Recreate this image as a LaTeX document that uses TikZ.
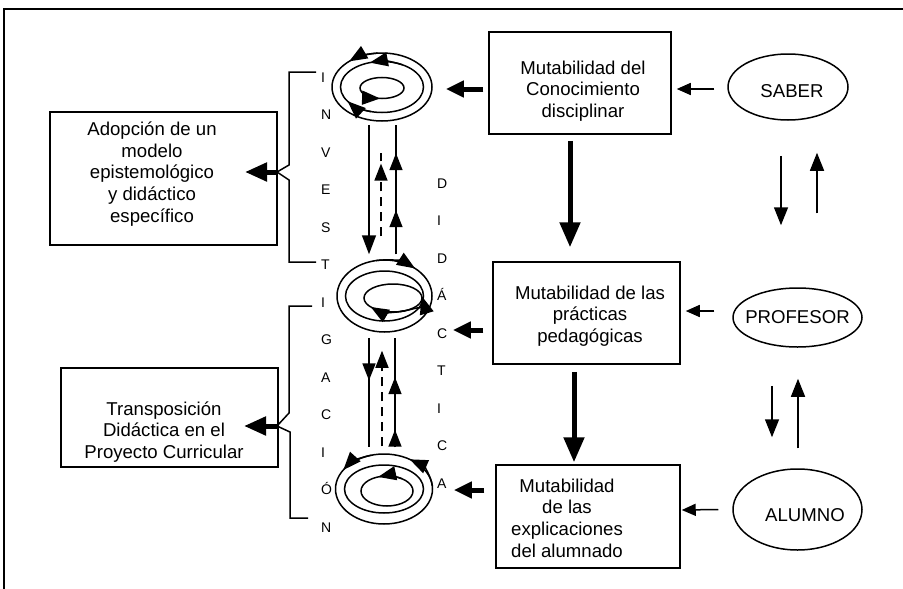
\documentclass[tikz,border=0pt]{standalone}
\usepackage{fontspec}
\setmainfont{Liberation Sans}
\usetikzlibrary{arrows.meta,shapes.geometric,decorations.markings}
\tikzstyle{box}=[draw,line width=1.5pt,inner sep=0pt]
\tikzstyle{oval}=[ellipse,draw,line width=1.5pt,inner sep=0pt]
\tikzstyle{txt}=[align=center,inner sep=0pt,font=\fontsize{18.6}{21.7}\selectfont]
\tikzstyle{letter}=[anchor=west,inner sep=0pt,text height=10pt,text depth=0pt,font=\fontsize{14}{16}\selectfont]
\tikzstyle{plain}=[draw,line width=1.5pt]
\tikzstyle{arr}=[draw,line width=1.5pt,-{Triangle[length=14pt,width=12pt]}]
\tikzstyle{varr}=[draw,line width=1.5pt,-{Triangle[length=18pt,width=14pt]}]
\tikzstyle{sarr}=[draw,line width=1.5pt,-{Triangle[length=19pt,width=14pt]}]
\tikzstyle{ctip}=[draw,line width=1.5pt,-{Triangle[length=18pt,width=14pt]}]
\tikzstyle{fat}=[draw,line width=5pt,-{Triangle[length=25pt,width=20pt]}]
\tikzstyle{fatl}=[draw,line width=5pt,-{Triangle[length=22pt,width=18pt]}]
\tikzstyle{fats}=[draw,line width=5pt,-{Triangle[length=18pt,width=16pt]}]
\tikzset{tipat/.style={postaction={decorate,decoration={markings,
  mark=at position #1 with {\arrow{Triangle[length=17pt,width=13pt]}}}}}}

\begin{document}
\begin{tikzpicture}[x=1pt,y=-1pt]
    \useasboundingbox (0,0) rectangle (903,589);
    \path[plain] (4,589) -- (4,9) -- (903,9);
    % boxes, ovals and spirals
    \foreach \pos/\name/\w/\h in {{(580,83)/b1/182pt/102pt}, {(586.5,313)/b2/187pt/102pt},
    {(588,516.5)/b3/184pt/103pt}, {(163.5,178.5)/adop/227pt/133pt},
    {(169.5,417.5)/transp/217pt/99pt}}
        \node[box,minimum width=\w,minimum height=\h] (\name) at \pos {};
    \foreach \pos/\name/\w/\h in {{(788,87)/saber/120pt/66pt}, {(797.5,317.5)/prof/129pt/59pt},
    {(797.5,509.5)/alumno/129pt/81pt}, {(382,87)/sp1/100pt/68pt}, {(384.5,296)/sp2/95pt/72pt},
    {(384,489)/sp3/97pt/70pt}}
        \node[oval,minimum width=\w,minimum height=\h] (\name) at \pos {};
    \foreach \pos/\name/\val in {{(583,91)/t1/{Mutabilidad del\\Conocimiento\\disciplinar}},
    {(590,316)/t2/{Mutabilidad de las\\prácticas\\pedagógicas}},
    {(567,518)/t3/{Mutabilidad\\de las\\explicaciones\\del alumnado}},
    {(152,174)/ta/{Adopción de un\\modelo\\epistemológico\\y didáctico\\específico}},
    {(164,432)/tb/{Transposición\\Didáctica en el\\Proyecto Curricular}},
    {(792,91.5)/saber-t/SABER}, {(797.5,317.5)/prof-t/PROFESOR}, {(805,515)/alumno-t/ALUMNO}}
        \node[txt] (\name) at \pos {\val};
    \foreach \ch [count=\i from 0] in {I,N,V,E,S,T,I,G,A,C,I,Ó,N}
        \node[letter] (inv\i) at (321,{77+37.5*\i}) {\ch};
    \foreach \ch [count=\i from 0] in {D,I,D,Á,C,T,I,C,A}
        \node[letter] (did\i) at (437,{183+37.5*\i}) {\ch};
    % inner rings
    \coordinate (in1) at (382,88);
    \coordinate (in2) at (393,298);
    \coordinate (in3) at (387,491);
    \foreach \c/\rx/\ry in {sp1/41.5/25.5, in1/22/10.5, sp2/39/25, in2/29/14, sp3/39.5/24, in3/26/15}
        \path[plain] (\c.center) ellipse [x radius=\rx, y radius=\ry];
    \foreach \c/\sa/\ea/\rx/\ry in {sp1/265/229/50/34, sp1/300/253/41.5/25.5, sp1/105/146/41.5/25.5,
    in1/160/95/22/10.5, sp2/260/310/47.5/36, in2/75/-8/29/14, in2/65/140/29/14,
    sp3/255/213/48.5/35, sp3/355/302/48.5/35, in3/305/250/26/15}
        \path[ctip] (\c.center) ++({\sa}:{\rx} and {\ry}) arc[start angle=\sa,end angle=\ea,x radius=\rx,y radius=\ry];
    % between the spirals
    \path[sarr] ([xshift=-13pt,yshift=-3pt]sp1.south) -- ([xshift=-15.5pt,yshift=5pt]sp2.north);
    \path[plain,dash pattern=on 9pt off 6pt,tipat=0.87] ([xshift=-3.5pt,yshift=23pt]sp2.north) -- ([xshift=-1pt,yshift=-31pt]sp1.south);
    \path[plain,tipat=0.34,tipat=0.78] ([xshift=11.5pt,yshift=5pt]sp2.north) -- ([xshift=14pt,yshift=-3pt]sp1.south);
    \path[plain,tipat=0.39] ([xshift=-15.5pt,yshift=-5pt]sp2.south) -- ([xshift=-15pt,yshift=6pt]sp3.north);
    \path[plain,dash pattern=on 9pt off 6pt,-{Triangle[length=17pt,width=13pt]}] ([xshift=-2pt,yshift=7pt]sp3.north) -- ([xshift=-2.5pt,yshift=-18pt]sp2.south);
    \path[plain,tipat=0.16,tipat=0.64] ([xshift=11pt,yshift=6pt]sp3.north) -- ([xshift=10.5pt,yshift=-5pt]sp2.south);
    % brackets
    \coordinate (tip1) at (277,172);
    \coordinate (tip2) at (277,426);
    \path[plain] (316,72) -- (289,72) -- (289,165) -- (tip1) -- (289,180) -- (289,262) -- (316,262);
    \path[plain] (312,306) -- (289,306) -- (289,413) -- (tip2) -- (290,432) -- (290,518) -- (308,518);
    \path[fatl] (tip1) -- ++(-32,0);
    \path[fatl] (tip2) -- ++(-33,0);
    % thick arrows
    \path[fat] ([xshift=-10pt,yshift=-6pt]b1.south) -- ([xshift=-16.5pt,yshift=14pt]b2.north);
    \path[fat] ([xshift=-12.5pt,yshift=-7pt]b2.south) -- ([xshift=-14pt,yshift=2pt]b3.north);
    \path[fats] ([xshift=-5pt,yshift=-6pt]b1.west) -- ([xshift=13pt,yshift=-2pt]sp1.east);
    \path[fats] ([xshift=-9pt,yshift=-17pt]b2.west) -- ([xshift=20pt,yshift=-34pt]sp2.east);
    \path[fats] ([xshift=-11pt,yshift=26.5pt]b3.west) -- ([xshift=20.5pt,yshift=-1pt]sp3.east);
    % thin arrows
    \path[arr] ([xshift=-13pt,yshift=-2pt]saber.west) -- ([xshift=5pt,yshift=-6pt]b1.east);
    \path[arr] ([xshift=-18pt,yshift=6.5pt]prof.west) -- ([xshift=5pt,yshift=2pt]b2.east);
    \path[arr] ([xshift=-14pt]alumno.west) -- ([xshift=1pt,yshift=6.5pt]b3.east);
    \path[varr] ([xshift=-7pt,yshift=-35pt]saber.south) -- ([xshift=-16.5pt,yshift=62pt]prof.north);
    \path[varr] ([xshift=19.5pt,yshift=74pt]prof.north) -- ([xshift=29pt,yshift=-32pt]saber.south);
    \path[varr] ([xshift=-25.5pt,yshift=-38pt]prof.south) -- ([xshift=-25.5pt,yshift=31pt]alumno.north);
    \path[varr] ([xshift=0.5pt,yshift=20pt]alumno.north) -- ([xshift=0.5pt,yshift=-31pt]prof.south);
\end{tikzpicture}
\end{document}
